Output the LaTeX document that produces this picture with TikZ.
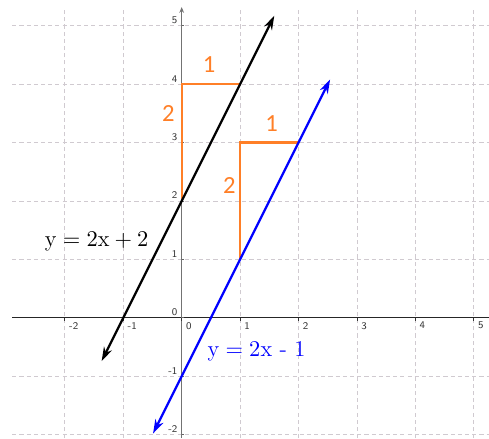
\documentclass[tikz,border=0pt]{standalone}
\usepackage{fontspec}
\newfontfamily\labelfont{Carlito}
\usetikzlibrary{arrows.meta,positioning}
\definecolor{gridgray}{RGB}{208,202,208}
\definecolor{steporange}{RGB}{255,127,39}

\begin{document}
\begin{tikzpicture}[
  gridline/.style={gridgray, dash pattern=on 2pt off 1.5pt, line width=0.4pt},
  axis/.style={line width=0.6pt},
  tick/.style={font=\sffamily\fontsize{5}{5}\selectfont, text=black!80, inner sep=0.5pt},
  graphline/.style={{Stealth[length=2.4mm,width=1.5mm]}-{Stealth[length=2.4mm,width=1.5mm]},
    line width=1.1pt},
  slope/.style={steporange, line width=1.1pt},
  slopelabel/.style={steporange, font=\labelfont\fontsize{12}{12}\selectfont},
  eqlabel/.style={font=\fontsize{11}{11}\selectfont}
]

\useasboundingbox (-3.11,-2.06) rectangle (5.26,5.44);

% Grid
\foreach \y in {-2,...,5}
  \draw[gridline] (-2.9,\y) -- (5.26,\y);
\foreach \x in {-2,...,5}
  \draw[gridline] (\x,-2.06) -- (\x,5.27);

% Axes
\draw[axis, black!85] (-2.9,0) -- (5.26,0);
\draw[axis, black!55, -{Stealth[length=1mm,width=0.8mm]}] (0,-2.06) -- (0,5.32);

% Ticks and tick labels
\foreach \x in {-2,...,5} {
  \draw[black!80, line width=0.4pt] (\x,0) -- (\x,-0.05);
  \node[tick, anchor=north west] at (\x+0.05,-0.05) {\x};
}
\foreach \y in {-2,...,5} {
  \draw[black!60, line width=0.4pt] (0,\y) -- (0.04,\y);
  \node[tick, anchor=south east] at (-0.05,\y+0.01) {\y};
}

% Rise and run steps
\coordinate (p1) at (0,2);
\coordinate (p2) at (0,4);
\coordinate (p3) at (1,4);
\coordinate (q1) at (1,1);
\coordinate (q2) at (1,3);
\coordinate (q3) at (2,3);
\draw[slope] (p1) -- (p2) -- (p3);
\draw[slope] (q1) -- (q2) -- (q3);
\node[slopelabel] (run1) at (0.47,4.33) {1};
\node[slopelabel] (rise1) at (-0.23,3.5) {2};
\node[slopelabel] (run2) at (1.54,3.33) {1};
\node[slopelabel] (rise2) at (0.815,2.27) {2};

% Lines
\coordinate (blackstart) at (-1.37,-0.74);
\coordinate (blackend) at (1.585,5.17);
\coordinate (bluestart) at (-0.49,-1.98);
\coordinate (blueend) at (2.54,4.08);
\draw[graphline, black] (blackstart) -- (blackend);
\draw[graphline, blue] (bluestart) -- (blueend);

% Equations
\node[eqlabel] (eqblack) at (-1.456,1.30) {$\mathrm{y} = 2\mathrm{x} + 2$};
\node[eqlabel, blue] (eqblue) at (1.28,-0.58) {$\mathrm{y} = 2\mathrm{x}$ - 1};

\end{tikzpicture}
\end{document}
